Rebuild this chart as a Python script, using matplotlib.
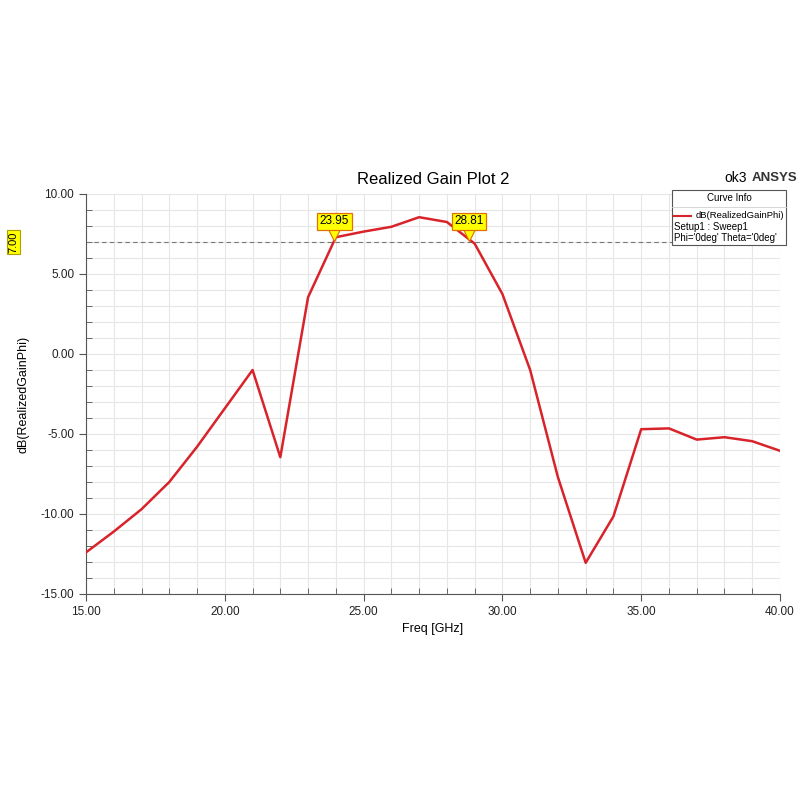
import numpy as np
import matplotlib
matplotlib.use("Agg")
import matplotlib.pyplot as plt
from matplotlib.ticker import MultipleLocator, FormatStrFormatter
from matplotlib.patches import Rectangle
from matplotlib.lines import Line2D
import matplotlib.transforms as mtransforms

plt.rcParams['font.family'] = ['Liberation Sans', 'DejaVu Sans']

freq = [15, 16, 17, 18, 19, 20, 21, 22, 23, 24, 25, 26, 27, 28, 29, 30, 31, 32,
        33, 34, 35, 36, 37, 38, 39, 40]
gain = [-12.4, -11.1, -9.7, -8.0, -5.8, -3.4, -1.0, -6.45, 3.55, 7.3, 7.65, 7.95,
        8.55, 8.25, 6.9, 3.75, -1.0, -7.7, -13.05, -10.15, -4.7, -4.65, -5.35,
        -5.2, -5.45, -6.05]
marker_x = [23.95, 28.81]
marker_y = 7.0
marker_labels = ['23.95', '28.81']
level_label = '7.00'

red = '#d8232a'

fig = plt.figure(figsize=(8, 8), dpi=100)
ax = fig.add_axes([0.1075, 0.2575, 0.8675, 0.5])

ax.plot(freq, gain, color=red, lw=1.8, zorder=3)
ax.set_xlim(15, 40)
ax.set_ylim(-15, 10)

ax.xaxis.set_major_locator(MultipleLocator(5))
ax.xaxis.set_minor_locator(MultipleLocator(1))
ax.yaxis.set_major_locator(MultipleLocator(5))
ax.yaxis.set_minor_locator(MultipleLocator(1))
ax.xaxis.set_major_formatter(FormatStrFormatter('%.2f'))
ax.yaxis.set_major_formatter(FormatStrFormatter('%.2f'))
ax.tick_params(which='major', direction='out', length=5, labelsize=8.5,
               color='#555555', labelcolor='#222222')
ax.tick_params(which='minor', direction='in', length=4, color='#555555')
ax.grid(which='both', color='#e6e6e6', lw=0.8, zorder=0)
ax.set_axisbelow(True)
for s in ['top', 'right']:
    ax.spines[s].set_visible(False)
for s in ['left', 'bottom']:
    ax.spines[s].set_color('#555555')

ax.set_xlabel('Freq [GHz]', fontsize=9, labelpad=4)
ax.set_ylabel('dB(RealizedGainPhi)', fontsize=9, labelpad=8)
ax.set_title('Realized Gain Plot 2', fontsize=12, pad=7)

# marker level line
ax.axhline(marker_y, color='#777777', lw=0.8, ls=(0, (4, 3)), zorder=2)
trans_y = mtransforms.blended_transform_factory(ax.transAxes, ax.transData)
ax.text(-0.104, marker_y, level_label, transform=trans_y, rotation=90,
        ha='center', va='center', fontsize=8,
        bbox=dict(boxstyle='square,pad=0.15', fc='#ffff00', ec='#b0a000', lw=0.8))

# markers
for mx, lab in zip(marker_x, marker_labels):
    ax.plot(mx, marker_y, marker='v', ms=9, mfc='#ffff00', mec='#e07000',
            mew=0.8, zorder=5,
            transform=ax.transData + mtransforms.ScaledTranslation(0, 5 / 72, fig.dpi_scale_trans))
    ax.annotate(lab, (mx, marker_y), xytext=(0, 15), textcoords='offset points',
                ha='center', va='center', fontsize=8.5, zorder=6,
                bbox=dict(boxstyle='square,pad=0.2', fc='#ffff00', ec='#e07000', lw=0.9))

# top right texts
fig.text(0.906, 0.778, 'ok3', fontsize=10, ha='left', va='center')
fig.text(0.94, 0.778, 'ANSYS', fontsize=9.5, fontweight='bold', ha='left', va='center',
         color='#333333')

# curve info box
bx0, by0, bw, bh = 0.84, 0.694, 0.143, 0.068
fig.patches.append(Rectangle((bx0, by0), bw, bh, transform=fig.transFigure,
                             fc='white', ec='#555555', lw=0.8, zorder=10))
fig.lines.append(Line2D([bx0, bx0 + bw], [by0 + bh - 0.021, by0 + bh - 0.021],
                        transform=fig.transFigure, color='#d0d0d0', lw=0.6, zorder=11))
fig.text(bx0 + bw / 2, by0 + bh - 0.01, 'Curve Info', fontsize=7, ha='center',
         va='center', zorder=12)
fig.lines.append(Line2D([bx0 + 0.003, bx0 + 0.024], [by0 + 0.036, by0 + 0.036],
                        transform=fig.transFigure, color=red, lw=1.5, zorder=12))
fig.text(bx0 + bw - 0.003, by0 + 0.036, 'dB(RealizedGainPhi)', fontsize=6.8,
         ha='right', va='center', zorder=12)
fig.text(bx0 + 0.003, by0 + 0.022, 'Setup1 : Sweep1', fontsize=7,
         ha='left', va='center', zorder=12)
fig.text(bx0 + 0.003, by0 + 0.008, "Phi='0deg' Theta='0deg'", fontsize=7,
         ha='left', va='center', zorder=12)

fig.savefig('out.png', dpi=100)
